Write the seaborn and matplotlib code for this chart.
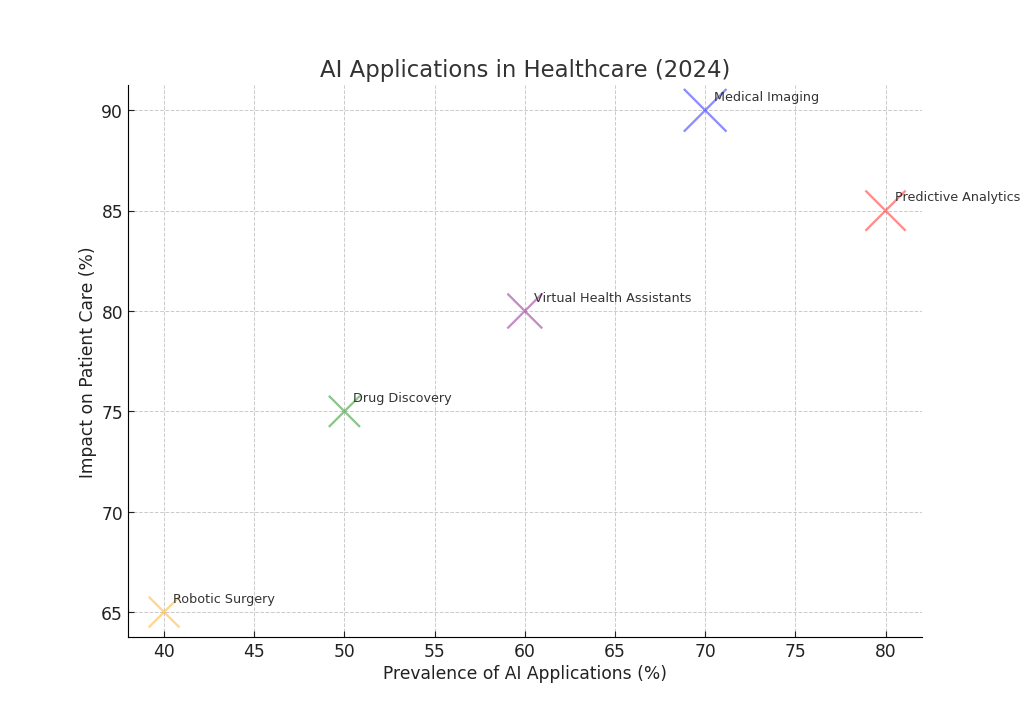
import matplotlib
matplotlib.use("Agg")
import matplotlib.pyplot as plt
import seaborn as sns
import pandas as pd

applications = ["Medical Imaging", "Predictive Analytics", "Virtual Health Assistants",
                "Drug Discovery", "Robotic Surgery"]
prevalence = [70, 80, 60, 50, 40]
impact = [90, 85, 80, 75, 65]
marker_sizes = [900, 800, 600, 480, 470]
colors = ["blue", "red", "purple", "green", "orange"]

df = pd.DataFrame({"app": applications, "prevalence": prevalence, "impact": impact})

plt.rcParams["font.family"] = ["DejaVu Sans"]
fig, ax = plt.subplots(figsize=(10, 7), dpi=102.4)

sns.scatterplot(data=df, x="prevalence", y="impact", hue="app", size="app",
                palette=dict(zip(applications, colors)),
                sizes=dict(zip(applications, marker_sizes)),
                marker="x", alpha=0.45, linewidth=1.6, legend=False, ax=ax, zorder=3)

for name, xv, yv in zip(applications, prevalence, impact):
    ax.text(xv + 0.5, yv + 0.5, name, fontsize=9, color="#333333")

ax.set_title("AI Applications in Healthcare (2024)", fontsize=16, color="#333333")
ax.set_xlabel("Prevalence of AI Applications (%)", fontsize=12, color="#222222", labelpad=3)
ax.set_ylabel("Impact on Patient Care (%)", fontsize=12, color="#222222", labelpad=3)
ax.tick_params(labelsize=12, colors="#222222", direction="in", length=4)
ax.grid(True, linestyle="--", color="#cccccc", linewidth=0.7)
ax.set_axisbelow(True)
for s in ["top", "right"]:
    ax.spines[s].set_visible(False)

fig.savefig("out.png", dpi=102.4)
